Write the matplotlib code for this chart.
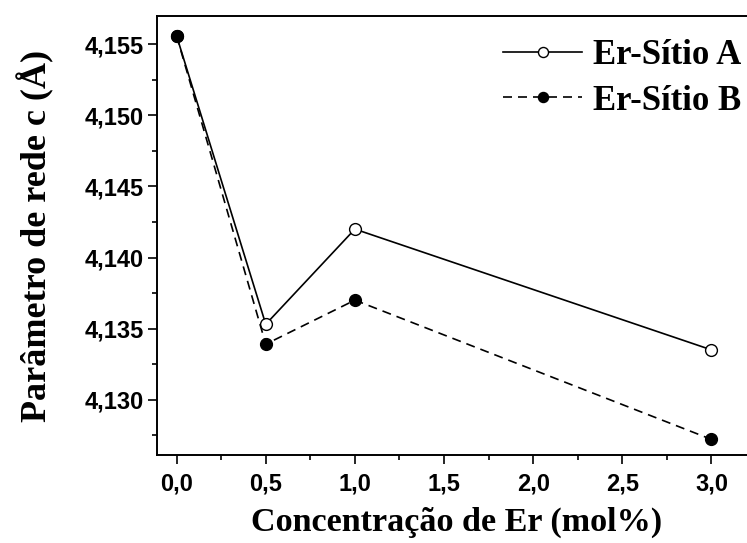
import matplotlib
matplotlib.use("Agg")
import matplotlib.pyplot as plt
from matplotlib.ticker import MultipleLocator, FuncFormatter
from matplotlib.font_manager import FontProperties

# Er concentration (mol%) and lattice parameter c (Å) for each Er site
concentracao = [0.0, 0.5, 1.0, 3.0]
sitio_a = [4.1556, 4.1353, 4.1420, 4.1335]
sitio_b = [4.1556, 4.1339, 4.1370, 4.1272]
x_ticks = [0.0, 0.5, 1.0, 1.5, 2.0, 2.5, 3.0]
y_ticks = [4.130, 4.135, 4.140, 4.145, 4.150, 4.155]

W, H = 747, 543
fig = plt.figure(figsize=(W / 100, H / 100), dpi=100)
left, right, top, bottom = 157, 756, 16, 455
ax = fig.add_axes([left / W, (H - bottom) / H, (right - left) / W, (bottom - top) / H])

ax.plot(concentracao, sitio_a, color="black", lw=1.2, ls="-",
        marker="o", ms=8.5, mfc="white", mec="black", mew=1.0,
        label="Er-Sítio A", zorder=3)
ax.plot(concentracao, sitio_b, color="black", lw=1.2, dashes=(5.4, 3.6),
        marker="o", ms=8.5, mfc="black", mec="black", mew=1.0,
        label="Er-Sítio B", zorder=4)

ax.set_xlim(-0.11, 3.25)
ax.set_ylim(4.1261, 4.1570)
ax.set_xticks(x_ticks)
ax.set_yticks(y_ticks)
ax.xaxis.set_minor_locator(MultipleLocator(0.25))
ax.yaxis.set_minor_locator(MultipleLocator(0.0025))

comma = lambda fmt: FuncFormatter(lambda v, p: (fmt % v).replace(".", ","))
ax.xaxis.set_major_formatter(comma("%.1f"))
ax.yaxis.set_major_formatter(comma("%.3f"))

tick_fp = FontProperties(family="Liberation Sans", weight="bold", size=17)
for lab in ax.get_xticklabels() + ax.get_yticklabels():
    lab.set_fontproperties(tick_fp)

ax.tick_params(which="major", direction="out", length=6.5, width=1.2)
ax.tick_params(axis="x", which="major", pad=6)
ax.tick_params(axis="y", which="major", pad=3)
ax.tick_params(which="minor", direction="out", length=3.5, width=1.2)
ax.tick_params(top=False, right=False)
for s in ax.spines.values():
    s.set_linewidth(1.4)

ax.set_xlabel("Concentração de Er (mol%)", labelpad=8,
              family="Liberation Serif", weight="bold", size=24.6)
ax.set_ylabel("Parâmetro de rede c (Å)", labelpad=22,
              family="Liberation Serif", weight="bold", size=26)

leg = ax.legend(loc="upper right", bbox_to_anchor=(741 / W, (H - 39) / H),
                bbox_transform=fig.transFigure, frameon=False, numpoints=1,
                handlelength=2.28, handletextpad=0.3, labelspacing=0.36,
                borderaxespad=0, borderpad=0, markerscale=0.85,
                prop=dict(family="Liberation Serif", weight="bold", size=25))

fig.savefig("out.png", dpi=100)
